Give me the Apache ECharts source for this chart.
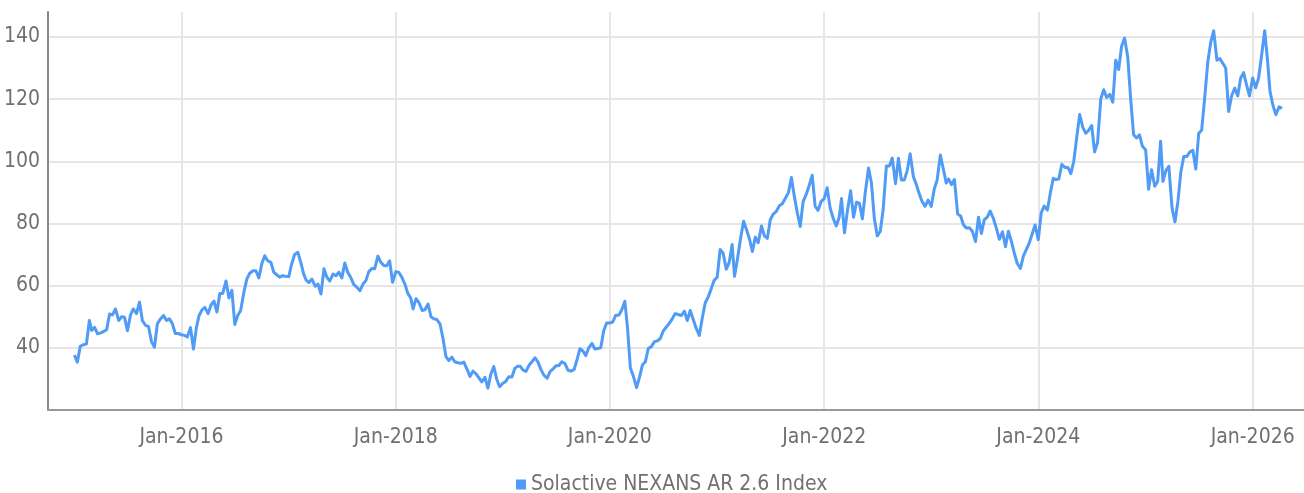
<!DOCTYPE html>
<html>
<head>
<meta charset="utf-8">
<script src="https://cdn.jsdelivr.net/npm/echarts@6/dist/echarts.min.js"></script>
<style>
html,body{margin:0;padding:0;background:#fff;}
#chart{width:1304px;height:493px;}
</style>
</head>
<body>
<div id="chart"></div>
<script>
const seriesName = 'Solactive NEXANS AR 2.6 Index';
// Observations on the 1st, 11th and 21st of each month, per year
const sampleDays = ['01', '11', '21'];
const v2015 = [37.7,35.4,40.5,41,41.2,48.8,45.6,46.6,44.5,44.8,45.3,45.8,50.9,50.6,52.5,48.8,50,49.8,45.5,50.5,52.5,51,54.7,48.7,47.2,46.8,42,40.2,47.8,49.2,50.4,48.8,49.3,47.8,44.6,44.6];
const v2016 = [44.2,44,43.5,46.5,39.6,46.5,50.3,52.2,53,51,53.8,55,51.5,57.5,57.5,61.5,56,58.5,47.5,50.4,52,57.9,62.1,64,64.8,64.8,62.5,67,69.6,68,67.5,64.3,63.5,62.7,63.2,63];
const v2017 = [62.9,67,70,70.7,67.5,63.7,61.8,61,62.1,59.8,60.5,57.3,65.4,62.7,61.5,63.7,63.2,64.3,62.5,67.3,64.3,62.5,60.3,59.5,58.4,60.5,61.6,64.5,65.5,65.4,69.5,67.5,66.5,66.4,68,61.1];
const v2018 = [64.5,64.3,62.8,60.5,57.5,56,52.5,55.8,54.5,52,52.3,54.1,50,49.3,49.1,47.6,43,37.2,35.9,37,35.5,35.2,35,35.4,33.1,30.8,32.5,31.7,30.4,29,30.5,27,31.5,34,30,27.5];
const v2019 = [28.6,29.2,30.7,30.6,33.4,34.1,34.1,32.8,32.4,34.5,35.6,36.8,35.4,33,31.2,30.2,32.3,33.2,34.2,34.3,35.5,34.9,32.8,32.5,33,36.2,39.7,39,37.5,40,41.4,39.6,39.8,40,45.5,48];
const v2020 = [48,48.3,50.5,50.5,52.3,55,46.6,33.5,30.9,27.2,30.5,34.5,35.5,39.8,40.3,42,42.2,43,45.4,46.6,47.8,49.4,51,50.7,50.4,51.8,48.8,52,49.2,46.4,44,49.5,54.4,56.3,58.8,61.6];
const v2021 = [62.7,71.6,70.5,65.3,67.5,73.2,63,68.5,74.8,80.7,78,75,71,75.6,73.8,79.2,76,75.2,81.2,83,83.8,85.7,86.3,88,89.9,94.8,88.7,83.5,79,87,89.5,92.3,95.5,85.5,84.2,87];
const v2022 = [88,91.5,85,81.5,79.2,82,88,77,84,90.5,82,86.8,86.5,81.5,90,97.8,93,81.4,76,77.5,84.5,98.5,98.5,101,92.8,101,94,94,97,102.4,95,92.5,89.5,87,85.5,87.5];
const v2023 = [85.5,91,94,102,97.5,93,94.3,92.5,94.1,83,82.4,79.5,78.5,78.6,77.5,74.2,82,76.8,81.3,82,84,81.5,78.5,74.9,77.3,72.5,77.5,74.3,70.5,67.2,65.5,69.5,71.6,73.7,76.6,79.5];
const v2024 = [74.8,83.5,85.6,84.3,89.8,94.5,94.1,94.3,99,98,98,96,100,107.7,115,110.8,109,110,111.5,103,106,120,123,120.5,121.5,119,132.5,129.5,137,139.6,133.5,120,108.5,107.5,108.5,104.8];
const v2025 = [103.7,91,97.3,92,93.5,106.4,93.5,97,98.4,85,80.5,87,96.5,101.5,101.5,103,103.5,97.5,109,110,120,132,138.3,142,132.5,133,131.5,130,116,121,123.5,121,126.8,128.5,124.6,121];
const v2026 = [126.8,123.6,126.7,134.5,142,132,122.5,118,115,117.5,117];
const years = [2015,2016,2017,2018,2019,2020,2021,2022,2023,2024,2025,2026];
const yearValues = [v2015,v2016,v2017,v2018,v2019,v2020,v2021,v2022,v2023,v2024,v2025,v2026];

const xTickDates = ['2016-01-01','2018-01-01','2020-01-01','2022-01-01','2024-01-01','2026-01-01'];
const xTickLabels = ['Jan-2016','Jan-2018','Jan-2020','Jan-2022','Jan-2024','Jan-2026'];
const xRange = ['2014-10-03','2026-06-25'];
const yRange = [20, 148];
const yStep = 20;

const toTime = d => echarts.time.parse(d).getTime();
const seriesData = [];
years.forEach((yr, k) => {
  yearValues[k].forEach((v, i) => {
    const m = String(Math.floor(i / 3) + 1).padStart(2, '0');
    seriesData.push([toTime(yr + '-' + m + '-' + sampleDays[i % 3]), v]);
  });
});

const tickTimes = xTickDates.map(toTime);
const font = '"DejaVu Sans Condensed", "DejaVu Sans", sans-serif';
const textColor = '#707070';

const chart = echarts.init(document.getElementById('chart'), null, {renderer: 'canvas'});
chart.setOption({
  animation: false,
  backgroundColor: '#fff',
  grid: {left: 48, right: 0, top: 12, bottom: 83, containLabel: false, outerBoundsMode: 'none'},
  legend: {
    data: [seriesName],
    left: 511,
    top: 469,
    icon: 'rect',
    itemWidth: 10,
    itemHeight: 10,
    textStyle: {fontFamily: font, fontSize: 21, color: textColor}
  },
  xAxis: {
    type: 'value',
    min: toTime(xRange[0]),
    max: toTime(xRange[1]),
    axisLine: {show: true, lineStyle: {color: '#999', width: 2}},
    axisTick: {show: false, customValues: tickTimes},
    axisLabel: {
      customValues: tickTimes,
      margin: 17,
      fontFamily: font,
      fontSize: 21,
      color: textColor,
      formatter: (val) => {
        const idx = tickTimes.indexOf(val);
        return idx >= 0 ? xTickLabels[idx] : '';
      }
    },
    splitLine: {show: true, lineStyle: {color: '#e6e6e6', width: 2}}
  },
  yAxis: {
    type: 'value',
    min: yRange[0],
    max: yRange[1],
    interval: yStep,
    axisLine: {show: true, lineStyle: {color: '#888', width: 2}},
    axisTick: {show: false},
    axisLabel: {
      showMinLabel: false,
      showMaxLabel: false,
      margin: 8,
      fontFamily: font,
      fontSize: 21,
      color: textColor
    },
    splitLine: {show: true, showMinLine: false, showMaxLine: false, lineStyle: {color: '#e6e6e6', width: 2}}
  },
  series: [{
    name: seriesName,
    type: 'line',
    data: seriesData,
    showSymbol: false,
    symbol: 'none',
    sampling: 'none',
    itemStyle: {color: '#4f9bf6'},
    lineStyle: {color: '#4f9bf6', width: 3, join: 'round'}
  }]
});
</script>
</body>
</html>
